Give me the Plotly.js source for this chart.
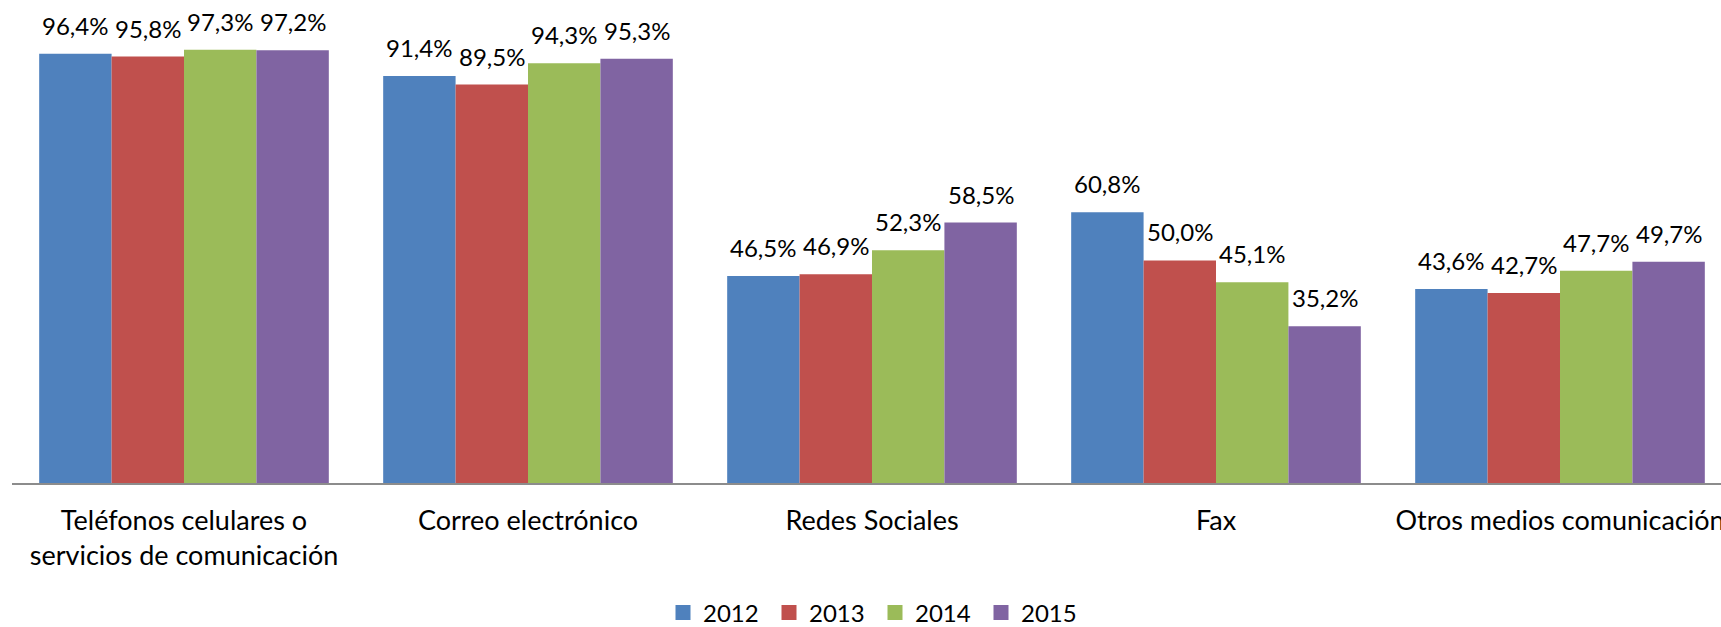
<!DOCTYPE html>
<html>
<head>
<meta charset="utf-8">
<script src="https://cdn.plot.ly/plotly-3.0.1.min.js"></script>
<style>
  html, body { margin: 0; padding: 0; background: #fff; }
  #chart { width: 1721px; height: 627px; }
</style>
</head>
<body>
<div id="chart"></div>
<script>
// ---- data ----
const categories = [
  "Teléfonos celulares o<br>servicios de comunicación",
  "Correo electrónico",
  "Redes Sociales",
  "Fax",
  "Otros medios comunicación"
];
const seriesNames = ["2012", "2013", "2014", "2015"];
const values2012 = [96.4, 91.4, 46.5, 60.8, 43.6];
const values2013 = [95.8, 89.5, 46.9, 50.0, 42.7];
const values2014 = [97.3, 94.3, 52.3, 45.1, 47.7];
const values2015 = [97.2, 95.3, 58.5, 35.2, 49.7];
const seriesValues = [values2012, values2013, values2014, values2015];
const colors = ["#4F81BD", "#C0504D", "#9BBB59", "#8064A2"];

// ---- layout constants ----
const W = 1721, H = 627;
const mL = 12, mR = 0, mT = 0, mB = 144;
const plotW = W - mL - mR;
const plotH = H - mT - mB;
const catPx = 344;            // pixel width of one category
const bargap = 0.158;
const barPx = catPx * (1 - bargap) / seriesNames.length;
const FONT = "Lato, 'Open Sans', sans-serif";

const fmt = v => v.toFixed(1).replace('.', ',') + '%';

const traces = [];
seriesNames.forEach((name, j) => {
  traces.push({
    type: 'bar',
    name: name,
    x: categories,
    y: seriesValues[j],
    marker: { color: colors[j], line: { width: 0 } },
    showlegend: false,
    hoverinfo: 'x+y'
  });
});
// legend entries with larger square swatches
seriesNames.forEach((name, j) => {
  traces.push({
    type: 'scatter',
    mode: 'markers',
    name: name,
    x: [null], y: [null],
    marker: { symbol: 'square', size: 15, color: colors[j] },
    showlegend: true,
    hoverinfo: 'skip'
  });
});

const annotations = [];
seriesNames.forEach((name, j) => {
  categories.forEach((c, i) => {
    annotations.push({
      x: c, y: seriesValues[j][i], xref: 'x', yref: 'y',
      xshift: (j - (seriesNames.length - 1) / 2) * barPx,
      yshift: 12,
      text: fmt(seriesValues[j][i]),
      showarrow: false,
      xanchor: 'center', yanchor: 'bottom',
      font: { family: FONT, size: 24, color: '#000' }
    });
  });
});

const layout = {
  width: W, height: H,
  margin: { l: mL, r: mR, t: mT, b: mB, pad: 0, autoexpand: false },
  paper_bgcolor: '#fff', plot_bgcolor: '#fff',
  barmode: 'group',
  bargap: bargap,
  bargroupgap: 0,
  font: { family: FONT, size: 24, color: '#000' },
  xaxis: {
    type: 'category',
    range: [-0.5, -0.5 + plotW / catPx],
    showline: true, linecolor: '#8c8c8c', linewidth: 1.5,
    showgrid: false, zeroline: false,
    ticks: '', ticklabelstandoff: 13,
    tickfont: { family: FONT, size: 27, color: '#000' },
    automargin: false,
    fixedrange: true
  },
  yaxis: {
    range: [0, 108.5],
    showline: false, showgrid: false, zeroline: false,
    showticklabels: false, ticks: '',
    automargin: false,
    fixedrange: true
  },
  showlegend: true,
  legend: {
    orientation: 'h',
    x: (663 - mL) / plotW, xanchor: 'left',
    y: (plotH - 613) / plotH, yanchor: 'middle',
    font: { family: FONT, size: 24, color: '#000' },
    entrywidth: 61, entrywidthmode: 'pixels',
    bgcolor: 'rgba(0,0,0,0)', borderwidth: 0
  },
  annotations: annotations
};

Plotly.newPlot('chart', traces, layout, { displayModeBar: false, staticPlot: true });
</script>
</body>
</html>
